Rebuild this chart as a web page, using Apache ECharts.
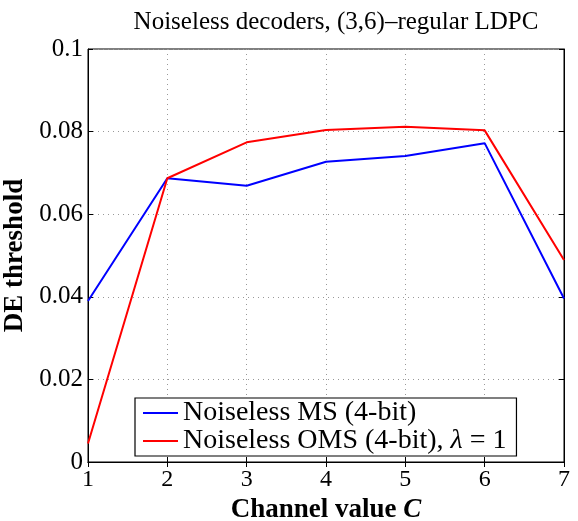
<!DOCTYPE html>
<html>
<head>
<meta charset="utf-8">
<script src="https://cdn.jsdelivr.net/npm/echarts@6/dist/echarts.min.js"></script>
<style>
  html, body { margin: 0; padding: 0; background: #fff; }
  #chart { width: 578px; height: 521px; }
</style>
</head>
<body>
<div id="chart"></div>
<script>
// channel values C and DE thresholds
var channelValues = [1, 2, 3, 4, 5, 6, 7];
var msThreshold = [0.0390, 0.0687, 0.0669, 0.0727, 0.0741, 0.0772, 0.0396];
var omsThreshold = [0.0045, 0.0687, 0.0774, 0.0804, 0.0812, 0.0803, 0.0489];
var yTicks = [0, 0.02, 0.04, 0.06, 0.08, 0.1];

var serif = '"Liberation Serif", "DejaVu Serif", serif';

function pairs(ys) {
    return channelValues.map(function (c, i) { return [c, ys[i]]; });
}

var chart = echarts.init(document.getElementById('chart'));

var option = {
    animation: false,
    backgroundColor: '#fff',
    title: {
        text: 'Noiseless decoders, (3,6)\u2013regular LDPC',
        left: 331, top: 5, textAlign: 'center',
        textStyle: { fontFamily: serif, fontSize: 25, fontWeight: 'normal', color: '#000' }
    },
    grid: {
        left: 88, top: 49, right: 14, bottom: 59, outerBoundsMode: 'none',
        show: true, borderColor: '#000', borderWidth: 1
    },
    legend: {
        left: 135, top: 398, orient: 'vertical',
        backgroundColor: '#fff', borderColor: '#000', borderWidth: 1.2, borderRadius: 0,
        padding: [1, 10, 1, 8], itemGap: 0, itemWidth: 35, itemHeight: 14,
        icon: 'path://M0,6 L35,6 L35,8 L0,8 Z',
        textStyle: {
            fontFamily: serif, fontSize: 28, lineHeight: 28, color: '#000',
            rich: { i: { fontFamily: serif, fontSize: 28, lineHeight: 28, fontStyle: 'italic', color: '#000' } }
        },
        formatter: function (name) {
            if (name.indexOf('OMS') >= 0) return 'Noiseless OMS (4-bit), {i|\u03bb} = 1';
            return name;
        },
        data: ['Noiseless MS (4-bit)', 'Noiseless OMS (4-bit)']
    },
    xAxis: [{
        type: 'value', min: 1, max: 7, interval: 1,
        name: 'Channel value {i|C}', nameLocation: 'middle', nameGap: 21,
        nameTextStyle: {
            fontFamily: serif, fontSize: 27, fontWeight: 'bold', color: '#000',
            rich: { i: { fontFamily: serif, fontSize: 27, fontStyle: 'italic', color: '#000' } }
        },
        axisLine: { lineStyle: { color: '#000' } },
        axisTick: { inside: true, length: 5, lineStyle: { color: '#000' } },
        axisLabel: { fontFamily: serif, fontSize: 24, color: '#000', margin: 6 },
        splitLine: { show: true, lineStyle: { type: [1, 4], color: '#999' } }
    }, {
        type: 'value', min: 1, max: 7, interval: 1, position: 'top',
        axisLine: { lineStyle: { color: '#000' } },
        axisTick: { inside: true, length: 5, lineStyle: { color: '#000' } },
        axisLabel: { show: false }, splitLine: { show: false }
    }],
    yAxis: [{
        type: 'value', min: 0, max: 0.1, interval: 0.02,
        name: 'DE threshold', nameLocation: 'middle', nameGap: 50, nameRotate: 90,
        nameTextStyle: { fontFamily: serif, fontSize: 27, fontWeight: 'bold', color: '#000' },
        axisLine: { lineStyle: { color: '#000' } },
        axisTick: { inside: true, length: 5, lineStyle: { color: '#000' } },
        axisLabel: {
            fontFamily: serif, fontSize: 25, color: '#000', margin: 5,
            formatter: function (v) {
                var t = yTicks.filter(function (y) { return Math.abs(y - v) < 1e-9; });
                return t.length ? String(+t[0].toFixed(2)) : '';
            }
        },
        splitLine: { show: true, lineStyle: { type: [1, 4], color: '#999' } }
    }, {
        type: 'value', min: 0, max: 0.1, interval: 0.02, position: 'right',
        axisLine: { lineStyle: { color: '#000' } },
        axisTick: { inside: true, length: 5, lineStyle: { color: '#000' } },
        axisLabel: { show: false }, splitLine: { show: false }
    }],
    series: [{
        name: 'Noiseless MS (4-bit)', type: 'line', data: pairs(msThreshold),
        showSymbol: false, color: '#0000ff', lineStyle: { width: 2, color: '#0000ff' }
    }, {
        name: 'Noiseless OMS (4-bit)', type: 'line', data: pairs(omsThreshold),
        showSymbol: false, color: '#ff0000', lineStyle: { width: 2, color: '#ff0000' }
    }]
};

chart.setOption(option);
</script>
</body>
</html>
